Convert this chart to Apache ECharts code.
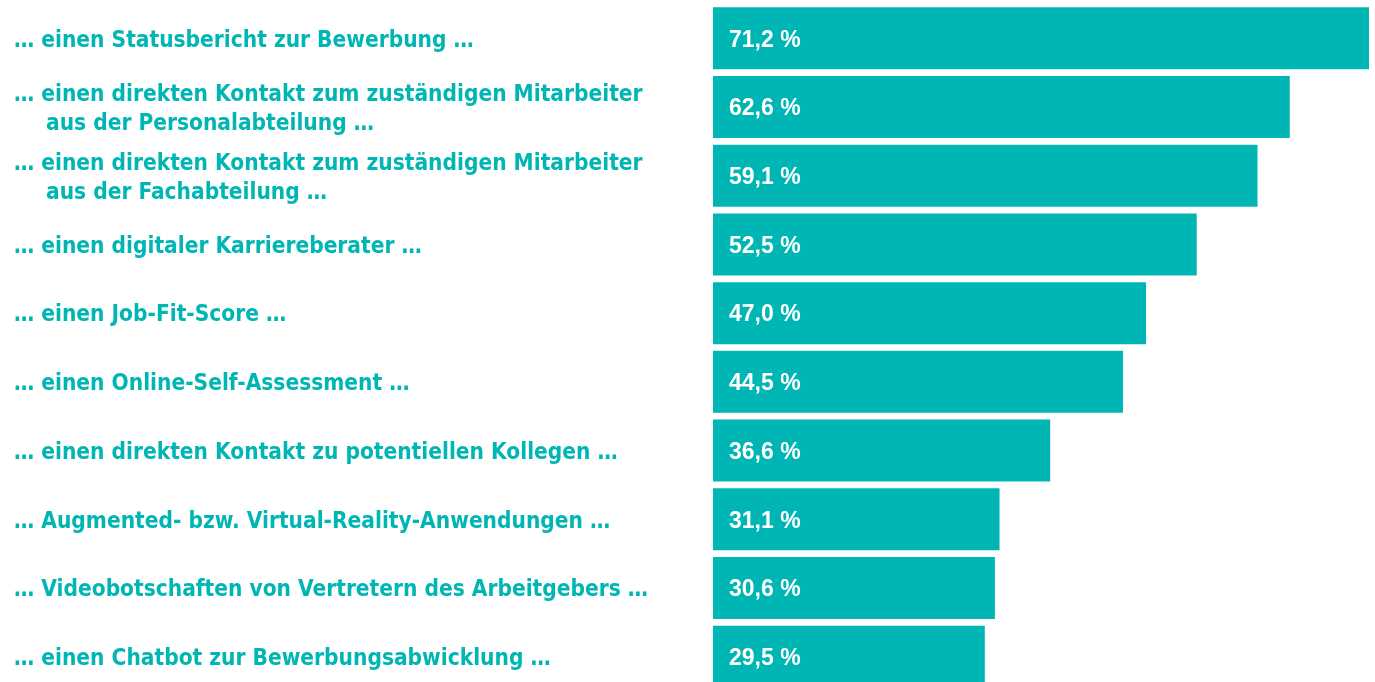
<!DOCTYPE html>
<html>
<head>
<meta charset="utf-8">
<script src="https://cdn.jsdelivr.net/npm/echarts@6/dist/echarts.min.js"></script>
<style>
  html, body { margin: 0; padding: 0; background: #fff; overflow: hidden; }
  #chart { width: 1375px; height: 700px; }
</style>
</head>
<body>
<div id="chart"></div>
<script>
// Kategorien (erste Zeile, optional zweite Zeile)
const labelLines = [
  ["… einen Statusbericht zur Bewerbung …"],
  ["… einen direkten Kontakt zum zuständigen Mitarbeiter", "aus der Personalabteilung …"],
  ["… einen direkten Kontakt zum zuständigen Mitarbeiter", "aus der Fachabteilung …"],
  ["… einen digitaler Karriereberater …"],
  ["… einen Job-Fit-Score …"],
  ["… einen Online-Self-Assessment …"],
  ["… einen direkten Kontakt zu potentiellen Kollegen …"],
  ["… Augmented- bzw. Virtual-Reality-Anwendungen …"],
  ["… Videobotschaften von Vertretern des Arbeitgebers …"],
  ["… einen Chatbot zur Bewerbungsabwicklung …"]
];
const values = [71.2, 62.6, 59.1, 52.5, 47.0, 44.5, 36.6, 31.1, 30.6, 29.5];

const teal = "#00b6b4";
const labelFont = "DejaVu Sans Condensed";
const categories = labelLines.map((l, i) => "c" + i);

const chart = echarts.init(document.getElementById("chart"));

const txt = { color: teal, fontFamily: labelFont, fontWeight: "bold", fontSize: 22.5, lineHeight: 29 };

const option = {
  animation: false,
  grid: { left: 713, top: 4, width: 656, height: 687 },
  xAxis: {
    type: "value",
    min: 0,
    max: 71.2,
    show: false
  },
  yAxis: {
    type: "category",
    inverse: true,
    data: categories,
    axisLine: { show: false },
    axisTick: { show: false },
    axisLabel: {
      align: "left",
      margin: 699,
      padding: [5, 0, 0, 0],
      formatter: function (v, idx) {
        const l = labelLines[idx];
        if (l.length === 1) return "{a|" + l[0] + "}";
        return "{a|" + l[0] + "}\n{b|" + l[1] + "}";
      },
      rich: {
        a: Object.assign({}, txt),
        b: Object.assign({ padding: [0, 0, 0, 32] }, txt)
      }
    }
  },
  series: [
    {
      type: "bar",
      data: values,
      barWidth: 62,
      itemStyle: { color: teal },
      label: {
        show: true,
        position: "insideLeft",
        offset: [11, 2],
        color: "#fff",
        fontFamily: "Liberation Sans, Arial, sans-serif",
        fontWeight: "bold",
        fontSize: 23,
        formatter: function (p) {
          return p.value.toFixed(1).replace(".", ",") + " %";
        }
      }
    }
  ]
};

chart.setOption(option);
</script>
</body>
</html>
